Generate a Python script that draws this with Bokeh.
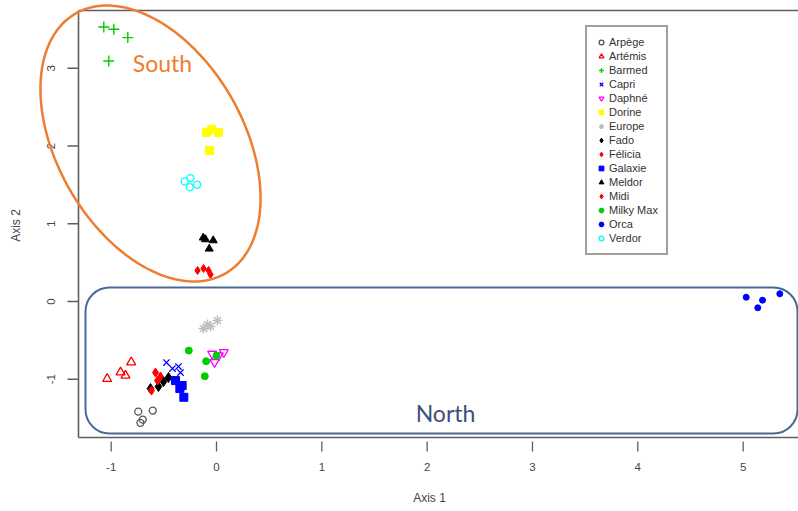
import numpy as np
from bokeh.plotting import figure
from bokeh.models import Range1d, Label, BoxAnnotation, PolyAnnotation
from bokeh.core.properties import value
from bokeh.embed import file_html
from bokeh.resources import INLINE

# Scores of the cultivar replicates on the first two axes
arpege_x = [-0.743, -0.605, -0.700, -0.722]
arpege_y = [-1.416, -1.403, -1.519, -1.561]
artemis_x = [-1.038, -0.911, -0.864, -0.810]
artemis_y = [-0.995, -0.910, -0.952, -0.781]
barmed_x = [-1.070, -0.975, -0.842, -1.023]
barmed_y = [3.530, 3.501, 3.394, 3.093]
capri_x = [-0.475, -0.418, -0.361, -0.342]
capri_y = [-0.785, -0.862, -0.837, -0.914]
daphne_x = [-0.041, 0.069, -0.019, 0.022]
daphne_y = [-0.673, -0.653, -0.781, -0.695]
dorine_x = [-0.095, -0.047, 0.019, -0.066]
dorine_y = [2.175, 2.214, 2.175, 1.943]
europe_x = [-0.123, -0.085, -0.057, 0.009]
europe_y = [-0.347, -0.296, -0.322, -0.245]
fado_x = [-0.627, -0.551, -0.503, -0.456]
fado_y = [-1.120, -1.094, -1.030, -0.978]
felicia_x = [-0.579, -0.532, -0.560, -0.617]
felicia_y = [-0.914, -0.965, -1.017, -1.145]
galaxie_x = [-0.389, -0.326, -0.310, -0.348]
galaxie_y = [-1.017, -1.081, -1.232, -1.120]
meldor_x = [-0.126, -0.031, -0.069, -0.104]
meldor_y = [0.820, 0.785, 0.678, 0.798]
midi_x = [-0.180, -0.123, -0.076, -0.057]
midi_y = [0.399, 0.425, 0.399, 0.347]
milky_x = [-0.263, -0.098, -0.111, 0.000]
milky_y = [-0.631, -0.768, -0.961, -0.695]
orca_x = [5.029, 5.184, 5.139, 5.348]
orca_y = [0.055, 0.017, -0.081, 0.099]
verdor_x = [-0.301, -0.247, -0.253, -0.183]
verdor_y = [1.544, 1.587, 1.471, 1.502]

x_ticks = [-1, 0, 1, 2, 3, 4, 5]
y_ticks = [-1, 0, 1, 2, 3]
x_title = "Axis 1"
y_title = "Axis 2"

series = [
    ("Arpège", arpege_x, arpege_y),
    ("Artémis", artemis_x, artemis_y),
    ("Barmed", barmed_x, barmed_y),
    ("Capri", capri_x, capri_y),
    ("Daphné", daphne_x, daphne_y),
    ("Dorine", dorine_x, dorine_y),
    ("Europe", europe_x, europe_y),
    ("Fado", fado_x, fado_y),
    ("Félicia", felicia_x, felicia_y),
    ("Galaxie", galaxie_x, galaxie_y),
    ("Meldor", meldor_x, meldor_y),
    ("Midi", midi_x, midi_y),
    ("Milky Max", milky_x, milky_y),
    ("Orca", orca_x, orca_y),
    ("Verdor", verdor_x, verdor_y),
]

# marker, colour, filled, size, line width
styles = {
    "Arpège": ("circle", "#555555", False, 7, 1.3),
    "Artémis": ("triangle", "#ff0000", False, 9, 1.3),
    "Barmed": ("cross", "#00cd00", False, 11, 1.4),
    "Capri": ("x", "#0000ff", False, 9, 1.3),
    "Daphné": ("inverted_triangle", "#ff00ff", False, 9, 1.3),
    "Dorine": ("square", "#ffff00", True, 8, 1),
    "Europe": ("asterisk", "#bebebe", False, 10, 1.5),
    "Fado": ("diamond", "#000000", True, 10, 1),
    "Félicia": ("diamond", "#ff0000", True, 9, 1),
    "Galaxie": ("square", "#0000ff", True, 8, 1),
    "Meldor": ("triangle", "#000000", True, 8, 1),
    "Midi": ("diamond", "#ff0000", True, 8, 1),
    "Milky Max": ("circle", "#00cd00", True, 7, 1),
    "Orca": ("circle", "#0000ff", True, 6, 1),
    "Verdor": ("circle", "#00ffff", False, 7, 1.3),
}

# The frame covers the whole canvas so the group outlines may run over
# the axis margins; the plotting box and its axes are drawn as glyphs.
W, H = 798, 511
PX_X = 105.33          # pixels per unit on axis 1
PX_Y = 77.75           # pixels per unit on axis 2
ORIGIN = (216, 301)    # canvas pixel of (0, 0)
CX0 = -ORIGIN[0] / PX_X
CX1 = (W - ORIGIN[0]) / PX_X
CY0 = -(H - ORIGIN[1]) / PX_Y
CY1 = ORIGIN[1] / PX_Y


def xpx(px):
    return CX0 + px / PX_X


def ypx(py):
    return CY1 - py / PX_Y


BOX_L, BOX_T, BOX_B = xpx(78), ypx(10), ypx(437)

p = figure(frame_width=W, frame_height=H,
           x_range=Range1d(CX0, CX1), y_range=Range1d(CY0, CY1),
           min_border=0, output_backend="svg", toolbar_location=None,
           background_fill_color="white", border_fill_color="white")
p.grid.visible = False
p.axis.visible = False
p.outline_line_color = None

AX_COLOR = "#5e5e5e"
LAB_COLOR = "#444444"
TICK_FS = "11.5px"
TITLE_FS = "12px"

# plotting box (open on the right)
p.segment(x0=[BOX_L, BOX_L, BOX_L], y0=[BOX_B, BOX_T, BOX_B],
          x1=[CX1, CX1, BOX_L], y1=[BOX_B, BOX_T, BOX_T],
          line_color=AX_COLOR, line_width=1.6)

# axis 1 ticks and labels
p.segment(x0=x_ticks, x1=x_ticks, y0=[ypx(441)] * len(x_ticks),
          y1=[ypx(451)] * len(x_ticks), line_color=AX_COLOR, line_width=1.3)
p.text(x=x_ticks, y=[ypx(466)] * len(x_ticks), text=[str(t) for t in x_ticks],
       text_font=value("Liberation Sans"), text_font_size=value(TICK_FS),
       text_color=LAB_COLOR, text_align="center", text_baseline="middle")
p.text(x=[xpx(429)], y=[ypx(497)], text=[x_title],
       text_font=value("Liberation Sans"), text_font_size=value(TITLE_FS),
       text_color=LAB_COLOR, text_align="center", text_baseline="middle")

# axis 2 ticks and labels
p.segment(x0=[xpx(67)] * len(y_ticks), x1=[xpx(78)] * len(y_ticks),
          y0=y_ticks, y1=y_ticks, line_color=AX_COLOR, line_width=1.3)
p.text(x=[xpx(50)] * len(y_ticks), y=y_ticks, text=[str(t) for t in y_ticks],
       angle=np.pi / 2, text_font=value("Liberation Sans"),
       text_font_size=value(TICK_FS), text_color=LAB_COLOR,
       text_align="center", text_baseline="middle")
p.text(x=[xpx(15)], y=[ypx(225)], text=[y_title], angle=np.pi / 2,
       text_font=value("Liberation Sans"), text_font_size=value(TITLE_FS),
       text_color=LAB_COLOR, text_align="center", text_baseline="middle")

for name, xs, ys in series:
    marker, color, filled, size, lw = styles[name]
    p.scatter(xs, ys, marker=marker, size=size, line_color=color,
              fill_color=color if filled else None, line_width=lw,
              legend_label=name)

# Group outlines
t = np.linspace(0, 2 * np.pi, 241)
cx, cy = xpx(150), ypx(143)
a_px, b_px, theta = 150.0, 93.0, np.deg2rad(60)
ex = a_px * np.cos(t) * np.cos(theta) - b_px * np.sin(t) * np.sin(theta)
ey = a_px * np.cos(t) * np.sin(theta) + b_px * np.sin(t) * np.cos(theta)
south = PolyAnnotation(xs=list(cx + ex / PX_X), ys=list(cy - ey / PX_Y),
                       fill_color=None, fill_alpha=0, line_alpha=1,
                       line_color="#ed7d31", line_width=2.5)
p.add_layout(south)

north = BoxAnnotation(left=xpx(85), right=xpx(797), top=ypx(287),
                      bottom=ypx(433), fill_color=None, fill_alpha=0,
                      line_alpha=1, line_color="#4a6a96", line_width=2,
                      border_radius=24)
p.add_layout(north)

p.add_layout(Label(x=xpx(162), y=ypx(62), text="South", text_font="Lato",
                   text_font_size="23px", text_color="#ed7d31",
                   text_align="center", text_baseline="middle"))
p.add_layout(Label(x=xpx(445), y=ypx(412), text="North", text_font="Lato",
                   text_font_size="23px", text_color="#3c4f7c",
                   text_align="center", text_baseline="middle"))

leg = p.legend[0]
leg.location = (585, H - 255)
leg.margin = 0
leg.padding = 8
leg.spacing = 0
leg.glyph_width = 12
leg.glyph_height = 14
leg.label_height = 14
leg.label_standoff = 2
leg.label_text_font = "Liberation Sans"
leg.label_text_font_size = "11px"
leg.label_text_color = "#333333"
leg.border_line_color = "#404040"
leg.border_line_width = 2
leg.background_fill_color = "white"
leg.background_fill_alpha = 1

open("out.html", "w").write(file_html(p, INLINE))
